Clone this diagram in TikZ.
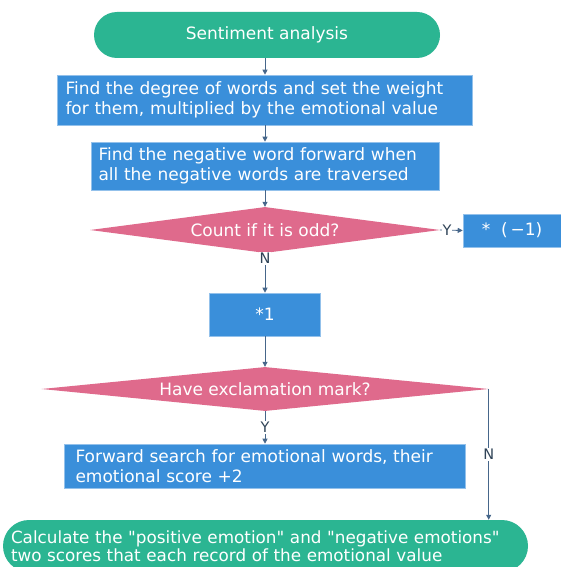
\documentclass[tikz,border=0pt]{standalone}
\usepackage{fontspec}
\setmainfont{DejaVu Sans}[Ligatures=TeXOff]
\usetikzlibrary{shapes.geometric,arrows.meta}
\definecolor{tealc}{HTML}{2BB592}
\definecolor{bluec}{HTML}{3A8FDA}
\definecolor{pinkc}{HTML}{DF6A8C}
\definecolor{arrc}{HTML}{46668A}
\definecolor{lblc}{HTML}{2F4357}
\begin{document}
\begin{tikzpicture}[x=1pt,y=-1pt,
  every node/.style={font=\fontsize{17}{20.5}\selectfont, text=white},
  term/.style={fill=tealc, rounded corners=23pt, inner sep=0pt},
  proc/.style={fill=bluec, draw=bluec!55!white, line width=0.6pt, inner ysep=0pt},
  dec/.style={diamond, fill=pinkc, inner sep=0pt},
  arr/.style={draw=arrc, line width=0.8pt, -{Triangle[length=5pt,width=5pt]}},
  lbl/.style={text=lblc, fill=white, inner sep=1pt, font=\fontsize{14.5}{17}\selectfont}
]
\clip (0,0) rectangle (561,567);
\fill[white] (0,0) rectangle (561,567);

\node[term, minimum width=346pt, minimum height=46pt] (start) at (267,35) {Sentiment analysis};
\node[proc, minimum height=50pt, text width=399pt, inner xsep=8pt, align=left] (b1) at (265,100)
  {Find the degree of words and set the weight\\for them, multiplied by the emotional value};
\node[proc, minimum height=48pt, text width=333pt, inner xsep=7.5pt, align=left] (b2) at (265,166)
  {Find the negative word forward when\\all the negative words are traversed};
\node[dec, aspect=7.6, minimum width=350pt, minimum height=46pt] (d1) at (265,230) {Count if it is odd?};
\node[proc, minimum width=98pt, minimum height=33pt] (neg) at (512,230.5) {*\ \ (\,−1)};
\node[proc, minimum width=111pt, minimum height=43pt] (one) at (265,314.5) {*1};
\node[dec, aspect=10, minimum width=447pt, minimum height=44pt] (d2) at (265,389) {Have exclamation mark?};
\node[proc, minimum height=44pt, text width=379pt, inner xsep=11pt, align=left] (b3) at (265,466)
  {Forward search for emotional words, their\\emotional score +2};
\node[term, rounded corners=26pt, minimum width=525pt, minimum height=52pt, text width=509pt, inner xsep=8pt, align=left,
  font=\fontsize{16.8}{18.5}\selectfont] (end) at (265.5,546)
  {Calculate the "positive emotion" and "negative emotions"\\two scores that each record of the emotional value};

\draw[arr] (start.south -| b1) -- (b1.north);
\draw[arr] (b1) -- (b2);
\draw[arr] (b2) -- (d1);
\draw[arr] (d1) -- node[lbl, pos=0.13]{N} (one);
\draw[arr] (d1.east) -- node[lbl, pos=0.3]{Y} (neg.west);
\draw[arr] (one) -- (d2);
\draw[arr] (d2) -- node[lbl, pos=0.5]{Y} (b3);
\draw[arr] (d2.east) -- node[lbl, pos=0.5]{N} (d2.east |- end.north);
\end{tikzpicture}
\end{document}
